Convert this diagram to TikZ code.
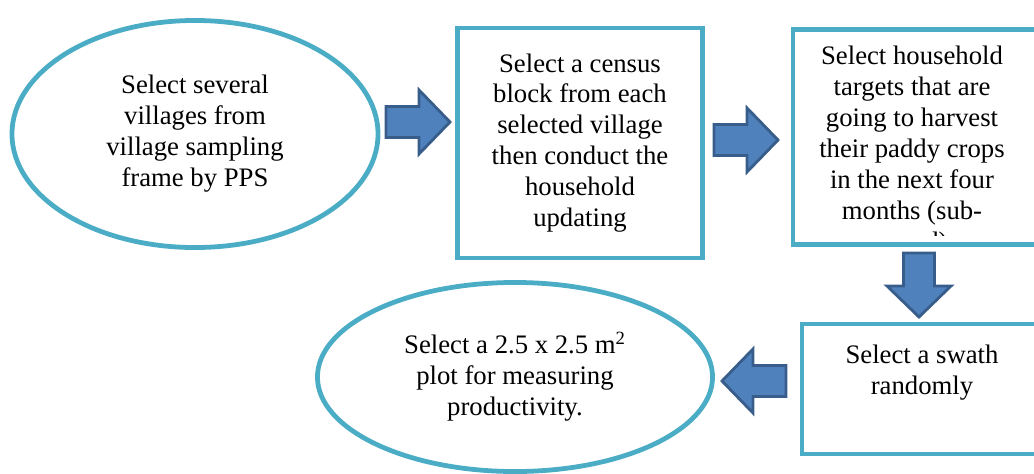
\documentclass[tikz,border=0pt]{standalone}
\usepackage{fontspec}
\setmainfont{Liberation Serif}
\usetikzlibrary{shapes.geometric,calc}
\definecolor{rim}{HTML}{4BACC6}
\definecolor{blockfill}{HTML}{4F81BD}
\definecolor{blockedge}{HTML}{385D8A}

\begin{document}
\begin{tikzpicture}[x=0.025cm,y=-0.025cm,
  every node/.style={font={\fontsize{19}{22}\selectfont}, align=center},
  oval/.style={draw=rim, line width=3.4pt, ellipse, inner sep=0pt},
  stage/.style={draw=rim, line width=3.5pt, rectangle, inner sep=0pt},
  blockarrow/.style={draw=blockedge, fill=blockfill, line width=2pt, line join=miter}]
  \useasboundingbox (0,0) rectangle (1034,474);
  \clip (0,0) rectangle (1034,474);

  % top row
  \node[oval, minimum width=9.15cm, minimum height=5.675cm] (villages) at (195,134) {Select several\\villages from\\village sampling\\frame by PPS};
  \node[stage, minimum width=6.125cm, minimum height=5.75cm] (census) at (580,143) {Select a census\\block from each\\selected village\\then conduct the\\household\\updating};
  \node[stage, minimum width=6.3cm, minimum height=5.39cm] (targets) at (919,137) {};
  \begin{scope}
    \clip (targets.north west) rectangle ([yshift=0.3cm]targets.south east);
    \node (targetstext) at (912,151) {Select household\\targets that are\\going to harvest\\their paddy crops\\in the next four\\months (sub-\\round)};
  \end{scope}

  % bottom row
  \node[stage, minimum width=6.075cm, minimum height=3.25cm] (swath) at (923.5,389) {};
  \node (swathtext) at (922,373) {Select a swath\\randomly};
  \node[oval, minimum width=9.875cm, minimum height=4.725cm] (plot) at (515,377) {Select a 2.5 x 2.5 m\textsuperscript{2}\\plot for measuring\\productivity.};

  % block arrows
  \foreach \tx/\ty/\ang in {386/122/0, 714/140/0, 919/253/-90, 786/381/180}
    \draw[blockarrow, shift={(\tx,\ty)}, rotate=\ang] (0,-15.5) -- (33,-15.5) -- (33,-32) -- (64,0) -- (33,32) -- (33,15.5) -- (0,15.5) -- cycle;
\end{tikzpicture}
\end{document}
